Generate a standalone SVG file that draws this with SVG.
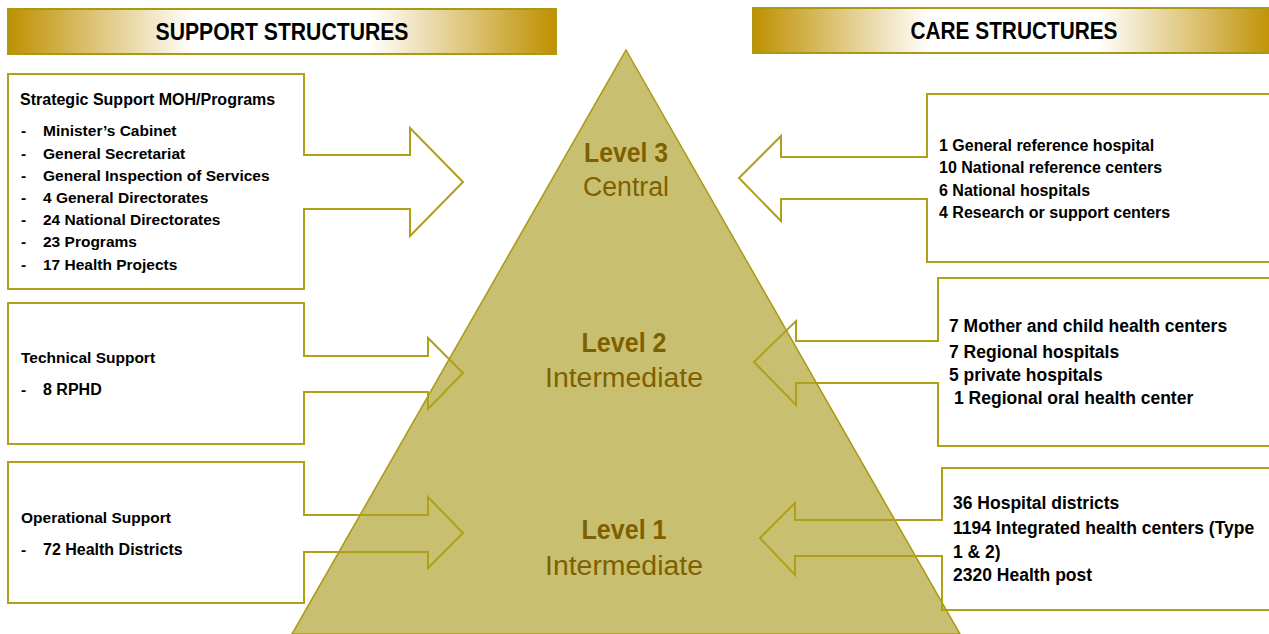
<svg xmlns="http://www.w3.org/2000/svg" width="1269" height="634" viewBox="0 0 1269 634">
<defs>
<linearGradient id="gold" x1="0" y1="0" x2="1" y2="0">
<stop offset="0" stop-color="#BF9000"/>
<stop offset="0.34" stop-color="#FFFFFF"/>
<stop offset="0.66" stop-color="#FFFFFF"/>
<stop offset="1" stop-color="#BF9000"/>
</linearGradient>
</defs>
<style>
.hdr{stroke:#A89A14;stroke-width:2;fill:url(#gold)}
.hdrt{font-family:"Liberation Sans",Arial,sans-serif;font-weight:bold;font-size:23px;fill:#000;text-anchor:middle}
.call{fill:none;stroke:#AFA018;stroke-width:2;stroke-linejoin:miter}
.tri{fill:#C8C070;stroke:#A89A10;stroke-width:1.5}
.t{font-family:"Liberation Sans",Arial,sans-serif;font-weight:bold;fill:#000}
.ls{font-size:15.5px}
.lh{font-size:16px}
.r1{font-size:16px}
.r2{font-size:17.5px}
.lvb{font-family:"Liberation Sans",Arial,sans-serif;font-weight:bold;font-size:27px;fill:#7F6000;text-anchor:middle}
.lvn{font-family:"Liberation Sans",Arial,sans-serif;font-size:27px;fill:#7F6000;text-anchor:middle}
</style>
<rect width="1269" height="634" fill="#FFFFFF"/>

<g id="header-support">
<rect class="hdr" x="8" y="9" width="548" height="45"/>
<text class="hdrt" x="282" y="40" textLength="253" lengthAdjust="spacingAndGlyphs">SUPPORT STRUCTURES</text>
</g>
<g id="header-care">
<rect class="hdr" x="753" y="8" width="522" height="45"/>
<text class="hdrt" x="1014" y="39" textLength="207" lengthAdjust="spacingAndGlyphs">CARE STRUCTURES</text>
</g>

<g id="pyramid">
<path class="tri" d="M626,50 L960,634 L292,634 Z"/>
<text class="lvb" x="626" y="162" textLength="84" lengthAdjust="spacingAndGlyphs">Level 3</text>
<text class="lvn" x="626" y="196" textLength="86" lengthAdjust="spacingAndGlyphs">Central</text>
<text class="lvb" x="624" y="352" textLength="85" lengthAdjust="spacingAndGlyphs">Level 2</text>
<text class="lvn" x="624" y="387" textLength="158" lengthAdjust="spacingAndGlyphs">Intermediate</text>
<text class="lvb" x="624" y="539" textLength="85" lengthAdjust="spacingAndGlyphs">Level 1</text>
<text class="lvn" x="624" y="575" textLength="158" lengthAdjust="spacingAndGlyphs">Intermediate</text>
</g>

<g id="connectors">
<path class="call" d="M8,74 H304 V155 H410 V128 L463,182 L410,236 V209 H304 V289 H8 Z"/>
<path class="call" d="M8,303 H304 V356 H428 V338 L463,373 L428,409 V392 H304 V444 H8 Z"/>
<path class="call" d="M8,462 H304 V515 H428 V497 L463,533 L428,568 V552 H304 V603 H8 Z"/>
<path class="call" d="M1275,94 H927 V157 H781 V136 L739,178 L781,221 V199 H927 V262 H1275"/>
<path class="call" d="M1275,278 H938 V341 H796 V321 L754,362 L796,405 V383 H938 V446 H1275"/>
<path class="call" d="M1275,468 H942 V520 H795 V503 L760,538 L795,575 V556 H942 V610 H1275"/>
</g>

<g id="strategic-support">
<text class="t lh" x="20" y="105">Strategic Support MOH/Programs</text>
<g class="t ls">
<text x="21" y="136">-</text><text x="43" y="136">Minister’s Cabinet</text>
<text x="21" y="159">-</text><text x="43" y="159">General Secretariat</text>
<text x="21" y="181">-</text><text x="43" y="181">General Inspection of Services</text>
<text x="21" y="203">-</text><text x="43" y="203">4 General Directorates</text>
<text x="21" y="225">-</text><text x="43" y="225">24 National Directorates</text>
<text x="21" y="247">-</text><text x="43" y="247">23 Programs</text>
<text x="21" y="270">-</text><text x="43" y="270">17 Health Projects</text>
</g>
</g>

<g id="technical-support">
<text class="t ls" x="21" y="363">Technical Support</text>
<text class="t ls" x="21" y="395">-</text><text class="t lh" x="43" y="395">8 RPHD</text>
</g>

<g id="operational-support">
<text class="t ls" x="21" y="523">Operational Support</text>
<text class="t ls" x="21" y="555">-</text><text class="t lh" x="43" y="555">72 Health Districts</text>
</g>

<g id="care-level3">
<text class="t r1" x="939" y="151">1 General reference hospital</text>
<text class="t r1" x="939" y="173">10 National reference centers</text>
<text class="t r1" x="939" y="196">6 National hospitals</text>
<text class="t r1" x="939" y="218">4 Research or support centers</text>
</g>

<g id="care-level2">
<text class="t r2" x="949" y="332">7 Mother and child health centers</text>
<text class="t r2" x="949" y="358">7 Regional hospitals</text>
<text class="t r2" x="949" y="381">5 private hospitals</text>
<text class="t r2" x="954" y="404">1 Regional oral health center</text>
</g>

<g id="care-level1">
<text class="t r2" x="953" y="509">36 Hospital districts</text>
<text class="t r2" x="953" y="534">1194 Integrated health centers (Type</text>
<text class="t r2" x="953" y="558">1 &amp; 2)</text>
<text class="t r2" x="953" y="581">2320 Health post</text>
</g>
</svg>
